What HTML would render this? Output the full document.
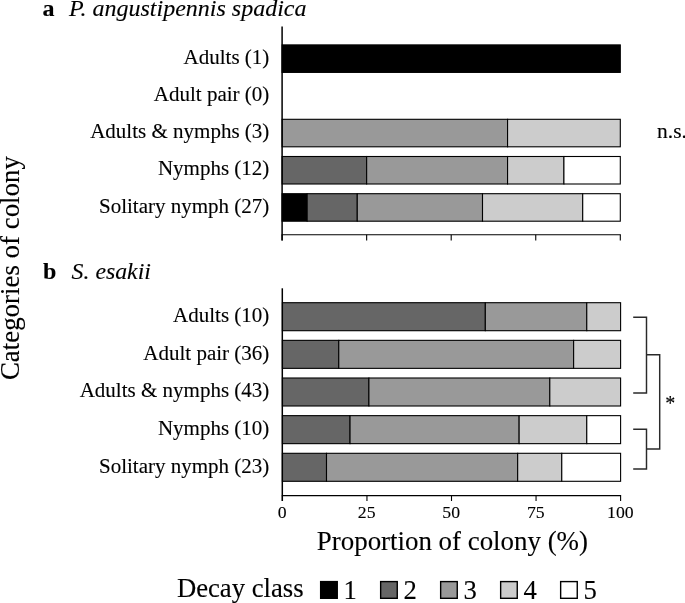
<!DOCTYPE html>
<html lang="en"><head><meta charset="utf-8"><title>Figure</title>
<style>html,body{margin:0;padding:0;background:#fff;}body{width:685px;height:603px;overflow:hidden;}svg{display:block;}text{stroke:#000;stroke-width:0.12px;}</style>
</head><body>
<svg width="685" height="603" viewBox="0 0 685 603" font-family="'Liberation Serif', serif" fill="#000">
<rect x="0" y="0" width="685" height="603" fill="#fff"/>
<g stroke="#000" stroke-width="1.1">
<rect x="282.10" y="44.90" width="338.20" height="27.50" fill="#000000"/>
<rect x="282.10" y="119.30" width="225.47" height="27.50" fill="#999999"/>
<rect x="507.57" y="119.30" width="112.73" height="27.50" fill="#cccccc"/>
<rect x="282.10" y="156.50" width="84.55" height="27.50" fill="#666666"/>
<rect x="366.65" y="156.50" width="140.92" height="27.50" fill="#999999"/>
<rect x="507.57" y="156.50" width="56.37" height="27.50" fill="#cccccc"/>
<rect x="563.93" y="156.50" width="56.37" height="27.50" fill="#ffffff"/>
<rect x="282.10" y="193.70" width="25.05" height="27.50" fill="#000000"/>
<rect x="307.15" y="193.70" width="50.10" height="27.50" fill="#666666"/>
<rect x="357.26" y="193.70" width="125.26" height="27.50" fill="#999999"/>
<rect x="482.51" y="193.70" width="100.21" height="27.50" fill="#cccccc"/>
<rect x="582.72" y="193.70" width="37.58" height="27.50" fill="#ffffff"/>
<rect x="282.40" y="302.70" width="202.92" height="28.00" fill="#666666"/>
<rect x="485.32" y="302.70" width="101.46" height="28.00" fill="#999999"/>
<rect x="586.78" y="302.70" width="33.82" height="28.00" fill="#cccccc"/>
<rect x="282.40" y="340.35" width="56.37" height="28.00" fill="#666666"/>
<rect x="338.77" y="340.35" width="234.86" height="28.00" fill="#999999"/>
<rect x="573.63" y="340.35" width="46.97" height="28.00" fill="#cccccc"/>
<rect x="282.40" y="378.00" width="86.52" height="28.00" fill="#666666"/>
<rect x="368.92" y="378.00" width="180.90" height="28.00" fill="#999999"/>
<rect x="549.81" y="378.00" width="70.79" height="28.00" fill="#cccccc"/>
<rect x="282.40" y="415.65" width="67.64" height="28.00" fill="#666666"/>
<rect x="350.04" y="415.65" width="169.10" height="28.00" fill="#999999"/>
<rect x="519.14" y="415.65" width="67.64" height="28.00" fill="#cccccc"/>
<rect x="586.78" y="415.65" width="33.82" height="28.00" fill="#ffffff"/>
<rect x="282.40" y="453.30" width="44.11" height="28.00" fill="#666666"/>
<rect x="326.51" y="453.30" width="191.16" height="28.00" fill="#999999"/>
<rect x="517.67" y="453.30" width="44.11" height="28.00" fill="#cccccc"/>
<rect x="561.78" y="453.30" width="58.82" height="28.00" fill="#ffffff"/>
</g>
<g stroke="#000" stroke-width="1.1" fill="none">
<line x1="281.6" y1="234.7" x2="620.8" y2="234.7"/>
<line x1="281.8" y1="495.6" x2="621.0999999999999" y2="495.6"/>
<line x1="282.10" y1="234.7" x2="282.10" y2="240.6" /><line x1="366.65" y1="234.7" x2="366.65" y2="240.6" /><line x1="451.20" y1="234.7" x2="451.20" y2="240.6" /><line x1="535.75" y1="234.7" x2="535.75" y2="240.6" /><line x1="620.30" y1="234.7" x2="620.30" y2="240.6" /><line x1="282.40" y1="495.6" x2="282.40" y2="501" /><line x1="366.95" y1="495.6" x2="366.95" y2="501" /><line x1="451.50" y1="495.6" x2="451.50" y2="501" /><line x1="536.05" y1="495.6" x2="536.05" y2="501" /><line x1="620.60" y1="495.6" x2="620.60" y2="501" />
<path d="M633.2 317.2 H646.5 V393 H633.2" stroke="#2a2a2a" stroke-width="1.45"/>
<path d="M633.2 429.3 H646.5 V469 H633.2" stroke="#2a2a2a" stroke-width="1.45"/>
<path d="M646.5 354.75 H659.7 V449 H646.5" stroke="#2a2a2a" stroke-width="1.45"/>
</g>
<g stroke="#000" stroke-width="1.5" fill="none">
<line x1="282.1" y1="26.5" x2="282.1" y2="240.6"/>
<line x1="282.3" y1="288.3" x2="282.3" y2="501"/>
</g>
<text x="269.3" y="63.70" font-size="21" text-anchor="end">Adults (1)</text>
<text x="269.3" y="100.90" font-size="21" text-anchor="end">Adult pair (0)</text>
<text x="269.3" y="138.10" font-size="21" text-anchor="end">Adults &amp; nymphs (3)</text>
<text x="269.3" y="175.30" font-size="21" text-anchor="end">Nymphs (12)</text>
<text x="269.3" y="212.50" font-size="21" text-anchor="end">Solitary nymph (27)</text>
<text x="269.3" y="321.95" font-size="21" text-anchor="end">Adults (10)</text>
<text x="269.3" y="359.60" font-size="21" text-anchor="end">Adult pair (36)</text>
<text x="269.3" y="397.25" font-size="21" text-anchor="end">Adults &amp; nymphs (43)</text>
<text x="269.3" y="434.90" font-size="21" text-anchor="end">Nymphs (10)</text>
<text x="269.3" y="472.55" font-size="21" text-anchor="end">Solitary nymph (23)</text>
<text x="282.10" y="518.2" font-size="17.7" text-anchor="middle">0</text><text x="366.65" y="518.2" font-size="17.7" text-anchor="middle">25</text><text x="451.20" y="518.2" font-size="17.7" text-anchor="middle">50</text><text x="535.75" y="518.2" font-size="17.7" text-anchor="middle">75</text><text x="620.30" y="518.2" font-size="17.7" text-anchor="middle">100</text>
<text x="42.4" y="16.4" font-size="24" font-weight="bold">a</text>
<text x="68.9" y="16.4" font-size="24" font-style="italic">P. angustipennis spadica</text>
<text x="43" y="279.2" font-size="24" font-weight="bold">b</text>
<text x="71.6" y="279.2" font-size="23.8" font-style="italic">S. esakii</text>
<text x="657" y="138.3" font-size="21.5">n.s.</text>
<text x="665.2" y="410.0" font-size="20">*</text>
<text x="452.4" y="550.3" font-size="26.9" text-anchor="middle">Proportion of colony (%)</text>
<text transform="translate(18.9,380.1) rotate(-90)" font-size="26.9">Categories of colony</text>
<text x="176.9" y="596.8" font-size="26.7">Decay class</text>
<g stroke="#000" stroke-width="1.4">
<rect x="320.65" y="581.6" width="16.6" height="16.7" fill="#000"/>
<rect x="380.65" y="581.6" width="16.6" height="16.7" fill="#666"/>
<rect x="440.65" y="581.6" width="16.6" height="16.7" fill="#999"/>
<rect x="500.65" y="581.6" width="16.6" height="16.7" fill="#ccc"/>
<rect x="560.65" y="581.6" width="16.6" height="16.7" fill="#fff"/>
</g>
<g font-size="26.7">
<text x="343.6" y="598.6">1</text>
<text x="403.6" y="598.6">2</text>
<text x="463.6" y="598.6">3</text>
<text x="523.6" y="598.6">4</text>
<text x="583.6" y="598.6">5</text>
</g>
</svg>
</body></html>
